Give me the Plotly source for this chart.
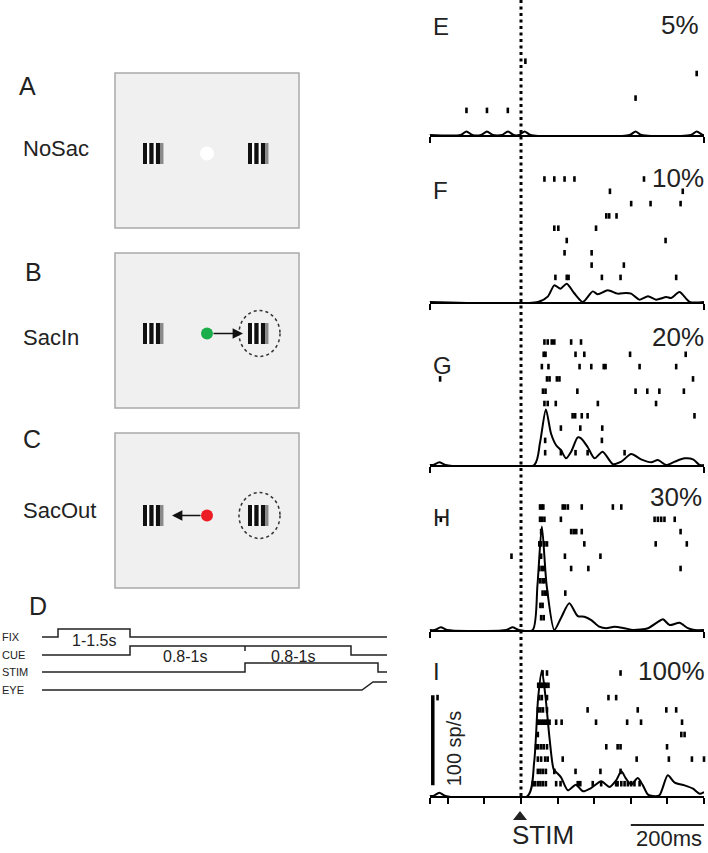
import plotly.graph_objects as go

FONT = "Liberation Sans, Arial, sans-serif"
W, H = 708, 853

# ---------------- data ----------------
PANEL_LETTERS = ["E", "F", "G", "H", "I"]
COHERENCE = ["5%", "10%", "20%", "30%", "100%"]

# spike times (ms from STIM) per trial, trial 1 = bottom row
E_TRIALS = [[], [-149, -93, -36], [313], [], [480], [12], [], [], [], []]
F_TRIALS = [[], [94, 125, 130, 221, 272, 424], [193, 281], [119, 193], [125, 395],
            [91, 102, 205], [233, 241, 261], [301, 354, 436], [243, 442],
            [64, 91, 119, 146, 336]]
G_TRIALS = [[66, 109, 149, 182, 283], [66, 221], [109, 162, 222],
            [141, 148, 166, 182, 474], [64, 73, 95, 210, 369],
            [60, 67, 154, 313, 345, 378, 445], [-221, 71, 78, 98, 105, 470],
            [57, 75, 160, 192, 226, 231, 324, 424], [62, 67, 149, 173, 298, 450],
            [64, 73, 84, 91, 137, 164]]
H_TRIALS = [[55, 62], [53, 59], [59, 66, 71, 121], [52, 59, 64],
            [50, 57, 62, 137, 184, 436], [-26, 55, 120, 217],
            [50, 55, 64, 71, 173, 368, 453], [55, 137, 144, 151, 166, 436],
            [-219, 52, 57, 64, 109, 365, 374, 383, 392, 420],
            [52, 57, 61, 114, 120, 128, 166, 251, 274]]
I_TRIALS = [[32, 38, 46, 53, 60, 68, 96, 108, 155, 162, 196, 219, 260, 264, 274,
             283, 292, 301, 310, 324],
            [46, 53, 60, 68, 91, 149, 217, 272],
            [46, 55, 66, 73, 114, 316, 404, 467, 500],
            [41, 47, 55, 62, 71, 233, 264, 272, 399],
            [46, 438, 447],
            [46, 51, 57, 62, 68, 73, 78, 96, 111, 205, 290, 328, 440],
            [46, 53, 60, 71, 182, 319, 397, 424],
            [-228, 50, 57, 71, 239, 260],
            [47, 53, 58, 64, 69, 75],
            [59, 71, 272]]

# spike density (sp/s) at time points (ms)
E_PSTH_T = [-250, -165, -149, -133, -109, -93, -77, -52, -36, -20, -5, 10, 26,
            297, 313, 329, 464, 480, 496, 500]
E_PSTH_R = [0, 0, 4, 0, 0, 4, 0, 0, 4, 0, 0, 4, 0, 0, 4, 0, 0, 4, 0, 0]
F_PSTH_T = [-250, 46, 73, 91, 108, 125, 145, 169, 196, 210, 237, 264, 287, 301,
            324, 347, 369, 397, 410, 433, 461, 500]
F_PSTH_R = [0, 0, 6, 18.5, 14.8, 20.4, 10, 0, 11.8, 8.5, 13, 9.3, 10, 9.3, 2.6,
            6.3, 2.6, 5.5, 4.4, 11, 0, 0]
G_PSTH_T = [-250, -240, -223, -206, 36, 52, 68, 82, 96, 109, 123, 137, 155, 164,
            182, 201, 223, 251, 274, 301, 328, 356, 374, 397, 420, 447, 470, 488, 500]
G_PSTH_R = [0, 0, 3, 0, 0, 25, 61.8, 35, 22, 16.7, 7.4, 14.8, 30.7, 29.6, 20,
            7.4, 14.8, 1, 3.7, 12.2, 6.3, 3, 5.5, 0, 3.7, 7.4, 6.3, 0, 0]
H_PSTH_T = [-250, -236, -219, -202, -40, -23, -6, 32, 45, 57, 70, 91, 110, 132,
            155, 173, 192, 214, 233, 255, 283, 306, 347, 374, 388, 406, 433, 456,
            474, 500]
H_PSTH_R = [0, 0, 3, 0, 0, 3, 0, 0, 50, 115, 50, 0, 14, 29.6, 15.5, 14.8, 11,
            3.7, 2, 3.7, 2, 0, 2, 9, 12, 5.5, 8, 2, 0, 0]
I_PSTH_T = [-250, -240, -223, -206, 18, 36, 47, 57, 67, 78, 89, 96, 109, 128,
            150, 169, 192, 219, 242, 260, 274, 287, 301, 319, 333, 347, 360, 378,
            401, 420, 447, 470, 488, 500]
I_PSTH_R = [0, 0, 3.7, 0, 0, 38, 110, 139.5, 110, 64, 30, 26.6, 21, 6.3, 12.6,
            5.2, 8.9, 16.3, 10, 17.4, 27.4, 19.2, 12.6, 20, 11.8, 1.5, 0, 0.7, 23,
            14.8, 11.8, 8.1, 2.6, 4.4]

X_RANGE = [-250, 500]
I_TICKS = [-250, -200, -100, 0, 100, 200, 300, 400, 500]
END_TICKS = [-250, 500]
SCALE_MS = [300, 500]        # 200 ms scale bar
SCALE_SPS = [12, 112]        # 100 sp/s scale bar

# task schematic (panels A-C) and timeline (panel D)
CONDITIONS = ["NoSac", "SacIn", "SacOut"]
COND_LETTERS = ["A", "B", "C"]
FIX_COLORS = ["white", "#1aae4a", "#ec1c24"]
TIMELINE_LABELS = ["FIX", "CUE", "STIM", "EYE"]
TIMELINE_X = [[42, 58, 58, 130, 130, 387],
              [42, 130, 130, 351, 351, 387],
              [42, 245, 245, 378, 378, 387],
              [42, 362, 373, 387]]
TIMELINE_LEVEL = [[0, 0, 1, 1, 0, 0],
                  [0, 0, 1, 1, 0, 0],
                  [0, 0, 1, 1, 0, 0],
                  [0, 0, 1, 1]]
INTERVAL_TEXT = ["1-1.5s", "0.8-1s", "0.8-1s"]

# ---------------- layout geometry (pixels) ----------------
BASE_PX = [135, 302, 465, 630, 796]
PANEL_H = 135
PX_PER_SPS = 0.9
ROW_PX = 12.3
X_DOM = [429.5 / W, 704 / W]

fig = go.Figure()
layout = {}
annotations = []
shapes = []

trials_all = [E_TRIALS, F_TRIALS, G_TRIALS, H_TRIALS, I_TRIALS]
psth_t = [E_PSTH_T, F_PSTH_T, G_PSTH_T, H_PSTH_T, I_PSTH_T]
psth_r = [E_PSTH_R, F_PSTH_R, G_PSTH_R, H_PSTH_R, I_PSTH_R]

for i in range(5):
    xa, ya, yr = f"x{i+1}", f"y{i+1}", f"y{i+6}"
    fig.add_trace(go.Scatter(x=psth_t[i], y=psth_r[i], xaxis=xa, yaxis=ya,
                             mode="lines", hoverinfo="skip",
                             line=dict(color="black", width=2, shape="spline",
                                       smoothing=0.7)))
    xs, ys = [], []
    for k, times in enumerate(trials_all[i], start=1):
        xs += times
        ys += [k] * len(times)
    fig.add_trace(go.Scatter(x=xs, y=ys, xaxis=xa, yaxis=yr, mode="markers",
                             hoverinfo="skip", cliponaxis=False,
                             marker=dict(symbol="line-ns", size=4, color="black",
                                         line=dict(width=2.6, color="black"))))
    b = BASE_PX[i]
    dom = [1 - b / H, min(1.0, 1 - (b - PANEL_H) / H)]
    layout[f"xaxis{i+1}"] = dict(domain=X_DOM, range=X_RANGE, anchor=ya,
                                 showline=True, linewidth=2, linecolor="black",
                                 ticks="outside", ticklen=6, tickwidth=2,
                                 tickcolor="black",
                                 tickvals=I_TICKS if i == 4 else END_TICKS,
                                 showticklabels=False, showgrid=False,
                                 zeroline=False, fixedrange=True)
    layout[f"yaxis{i+1}"] = dict(domain=dom, range=[0, PANEL_H / PX_PER_SPS],
                                 anchor=xa, visible=False, fixedrange=True)
    layout[f"yaxis{i+6}"] = dict(overlaying=ya, range=[0, PANEL_H / ROW_PX],
                                 anchor=xa, visible=False, fixedrange=True)

# canvas axis in pixel units for schematic parts
layout["xaxis11"] = dict(domain=[0, 1], range=[0, W], anchor="y11", visible=False,
                         fixedrange=True)
layout["yaxis11"] = dict(domain=[0, 1], range=[H, 0], anchor="x11", visible=False,
                         fixedrange=True)

# panel letters and coherence labels
LETTER_Y = [26, 190, 365, 517, 671]
PCT_Y = [25, 178, 337, 497, 671]
PCT_RIGHT = [701, 706, 706, 704, 707]
for i in range(5):
    annotations.append(dict(x=431, y=LETTER_Y[i], xref="x11", yref="y11",
                            text=PANEL_LETTERS[i], showarrow=False, xanchor="left",
                            yanchor="middle", font=dict(size=24, family=FONT, color="#222")))
    annotations.append(dict(x=PCT_RIGHT[i], y=PCT_Y[i], xref="x11", yref="y11",
                            text=COHERENCE[i], showarrow=False, xanchor="right",
                            yanchor="middle", font=dict(size=26, family=FONT, color="#222")))

# stim dotted line
shapes.append(dict(type="line", xref="x5", yref="y11", x0=0, x1=0, y0=0, y1=797,
                   line=dict(color="black", width=3, dash="3px,3.5px")))
# triangle marker
shapes.append(dict(type="path", xref="x11", yref="y11",
                   path="M 513 820 L 527 820 L 520 811 Z", fillcolor="#222",
                   line=dict(width=0)))
annotations.append(dict(x=543, y=835, xref="x11", yref="y11", text="STIM",
                        showarrow=False, font=dict(size=26, family=FONT, color="#222")))
# 200 ms scale bar
shapes.append(dict(type="line", xref="x5", yref="y11", x0=SCALE_MS[0], x1=SCALE_MS[1],
                   y0=825, y1=825, line=dict(color="#222", width=2)))
annotations.append(dict(x=669, y=838, xref="x11", yref="y11", text="200ms",
                        showarrow=False, font=dict(size=22, family=FONT, color="#222")))
# 100 sp/s scale bar
shapes.append(dict(type="line", xref="x5", yref="y5", x0=-241, x1=-241,
                   y0=SCALE_SPS[0], y1=SCALE_SPS[1], line=dict(color="black", width=3.5)))
annotations.append(dict(x=-183, y=53, xref="x5", yref="y5", text="100 sp/s",
                        textangle=-90, showarrow=False,
                        font=dict(size=20, family=FONT, color="#222")))

# ---------------- panels A-C schematic ----------------
BOX_TOP = [73, 253, 433]
BOX_X = [115, 299]
BOX_H = 155
GRATING_OFF = 70
LEFT_G_X = 143
RIGHT_G_X = 248
FIX_X = 207
LETTER_XY = [(27, 86), (33, 272), (32, 439)]
COND_Y = [148, 337, 510]
BAR_SEGMENTS = [(0, 4, "#111"), (6.3, 10.6, "#111"), (12.9, 17.0, "#111"),
                (17.0, 20.5, "#8a8a8a")]

for c in range(3):
    top = BOX_TOP[c]
    shapes.append(dict(type="rect", xref="x11", yref="y11", x0=BOX_X[0], x1=BOX_X[1],
                       y0=top, y1=top + BOX_H, fillcolor="#f1f0f0",
                       line=dict(color="#a9a9a9", width=1.5), layer="below"))
    gy = top + GRATING_OFF + (2 if c == 2 else 0)
    for gx in (LEFT_G_X, RIGHT_G_X):
        shapes.append(dict(type="rect", xref="x11", yref="y11", x0=gx, x1=gx + 20.5,
                           y0=gy, y1=gy + 21, fillcolor="white", line=dict(width=0)))
        for s0, s1, col in BAR_SEGMENTS:
            shapes.append(dict(type="rect", xref="x11", yref="y11", x0=gx + s0,
                               x1=gx + s1, y0=gy, y1=gy + 21, fillcolor=col,
                               line=dict(width=0)))
    cy = gy + 10.5
    r = 7 if c == 0 else 6
    shapes.append(dict(type="circle", xref="x11", yref="y11", x0=FIX_X - r,
                       x1=FIX_X + r, y0=cy - r, y1=cy + r, fillcolor=FIX_COLORS[c],
                       line=dict(width=0)))
    if c > 0:
        shapes.append(dict(type="circle", xref="x11", yref="y11", x0=239, x1=280,
                           y0=cy - 23, y1=cy + 23,
                           line=dict(color="#333", width=1.5, dash="dot")))
        tip = 243 if c == 1 else 172
        annotations.append(dict(x=tip, y=cy, ax=FIX_X + (5 if c == 1 else -5), ay=cy,
                                xref="x11", yref="y11", axref="x11", ayref="y11",
                                text="", showarrow=True, arrowhead=2, arrowsize=1.3,
                                arrowwidth=1.6, arrowcolor="#111"))
    lx, ly = LETTER_XY[c]
    annotations.append(dict(x=lx, y=ly, xref="x11", yref="y11", text=COND_LETTERS[c],
                            showarrow=False, font=dict(size=25, family=FONT, color="#222")))
    annotations.append(dict(x=21, y=COND_Y[c], xref="x11", yref="y11",
                            text=CONDITIONS[c], showarrow=False, xanchor="left",
                            font=dict(size=22, family=FONT, color="#222")))

# ---------------- panel D timeline ----------------
annotations.append(dict(x=38, y=606, xref="x11", yref="y11", text="D", showarrow=False,
                        font=dict(size=25, family=FONT, color="#222")))
LOW_Y = [637, 655, 672, 690]
HIGH_Y = [629, 646, 663, 682]
for j in range(4):
    ys = [LOW_Y[j] + (HIGH_Y[j] - LOW_Y[j]) * lv for lv in TIMELINE_LEVEL[j]]
    fig.add_trace(go.Scatter(x=TIMELINE_X[j], y=ys, xaxis="x11", yaxis="y11",
                             mode="lines", hoverinfo="skip",
                             line=dict(color="#222", width=1.5)))
    annotations.append(dict(x=0, y=LOW_Y[j], xref="paper", yref="y11",
                            text=TIMELINE_LABELS[j], showarrow=False, xanchor="left",
                            font=dict(size=11, family=FONT, color="#222")))
fig.add_trace(go.Scatter(x=[245, 245], y=[646, 651], xaxis="x11", yaxis="y11",
                         mode="lines", hoverinfo="skip",
                         line=dict(color="#222", width=1.5)))
INTERVAL_XY = [(94, 640), (185, 656), (293, 656)]
for (tx, ty), t in zip(INTERVAL_XY, INTERVAL_TEXT):
    annotations.append(dict(x=tx, y=ty, xref="x11", yref="y11", text=t,
                            showarrow=False, font=dict(size=16, family=FONT, color="#222")))

fig.update_layout(width=W, height=H, margin=dict(l=0, r=0, t=0, b=0),
                  paper_bgcolor="white", plot_bgcolor="rgba(0,0,0,0)",
                  showlegend=False, annotations=annotations, shapes=shapes,
                  font=dict(family=FONT), **layout)

fig.write_html("out.html", config={"displayModeBar": False},
               post_script="document.body.style.margin='0px';document.body.style.overflow='hidden';")
